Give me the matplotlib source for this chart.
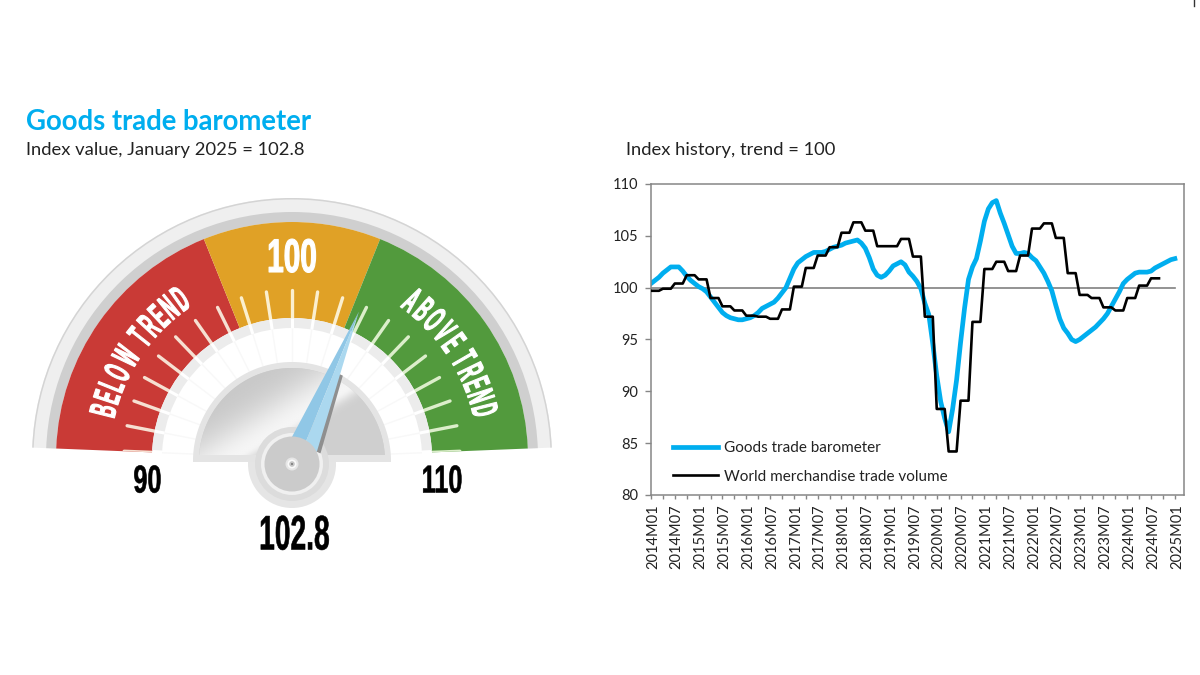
import numpy as np
import matplotlib
matplotlib.use("Agg")
import matplotlib.pyplot as plt
from matplotlib.patches import Wedge, Circle, Polygon
from matplotlib.patheffects import AbstractPathEffect
from matplotlib.textpath import TextPath
from matplotlib.font_manager import FontProperties
from matplotlib.transforms import Affine2D, ScaledTranslation

plt.rcParams['font.family'] = ['Lato', 'DejaVu Sans']

# ---- data ----
gauge_value = 102.8
gauge_min = 90
gauge_max = 110
zone_low = 97.5
zone_high = 102.5

years = list(range(2014, 2026))

# barometer, monthly 2014M01 .. 2025M01
barometer = [
    100.4, 100.7, 101.0, 101.4, 101.7, 102.0, 102.0, 102.0, 101.6, 101.1, 100.7, 100.4,
    100.1, 99.9, 99.6, 99.1, 98.6, 98.1, 97.6, 97.3, 97.1, 97.0, 96.9, 96.9,
    97.0, 97.1, 97.3, 97.6, 98.0, 98.2, 98.4, 98.6, 99.0, 99.5, 100.0, 100.9,
    101.8, 102.4, 102.7, 103.0, 103.2, 103.4, 103.4, 103.4, 103.5, 103.7, 103.9, 104.0,
    104.1, 104.3, 104.4, 104.5, 104.6, 104.3, 103.8, 102.9, 101.8, 101.2, 101.0, 101.2,
    101.6, 102.1, 102.3, 102.5, 102.2, 101.5, 101.1, 100.6, 99.9, 98.5, 97.4, 94.6,
    91.5, 89.0, 87.4, 86.1, 88.3, 91.1, 94.7, 98.0, 100.8, 102.0, 102.8, 104.5,
    106.4, 107.6, 108.2, 108.4, 107.2, 106.2, 105.1, 104.0, 103.3, 103.3, 103.4, 103.3,
    102.9, 102.6, 102.0, 101.4, 100.6, 99.7, 98.3, 97.0, 96.1, 95.6, 95.0, 94.8,
    95.0, 95.3, 95.6, 95.9, 96.2, 96.6, 97.0, 97.5, 98.2, 98.9, 99.6, 100.4,
    100.8, 101.1, 101.4, 101.5, 101.5, 101.5, 101.6, 101.9, 102.1, 102.3, 102.5, 102.7,
    102.8,
]

# trade volume, one value per quarter from 2014Q1 to 2024Q3
volume_q = [
    99.7, 99.9, 100.4, 101.2, 100.8, 99.0, 98.2, 97.8, 97.3, 97.2, 97.0, 97.9,
    100.1, 101.9, 103.1, 103.9, 105.3, 106.3, 105.5, 104.0, 104.0, 104.7, 103.0, 97.2,
    88.3, 84.2, 89.1, 96.7, 101.8, 102.5, 101.6, 103.1, 105.7, 106.2, 104.8, 101.4,
    99.3, 99.0, 98.1, 97.8, 99.0, 100.2, 100.9,
]

months = [f"{y}M{m:02d}" for y in years for m in range(1, 13)][:len(barometer)]
volume = np.repeat(volume_q, 3)

# colours
RED = "#C93A36"
YELLOW = "#E0A126"
GREEN = "#529A3D"
CYAN = "#00AEEF"


class Squeeze(AbstractPathEffect):
    # the gauge font is condensed, so narrow the glyphs about their own centre
    def __init__(self, sx, stroke=0.0):
        super().__init__()
        self.sx = sx
        self.stroke = stroke

    def draw_path(self, renderer, gc, tpath, affine, rgbFace=None):
        ext = tpath.get_extents()
        cx = (ext.x0 + ext.x1) / 2
        squeeze = Affine2D().translate(-cx, 0).scale(self.sx, 1).translate(cx, 0)
        gc0 = renderer.new_gc()
        gc0.copy_properties(gc)
        gc0.set_linewidth(self.stroke)
        gc0.set_foreground(rgbFace)
        renderer.draw_path(gc0, tpath, squeeze + affine, rgbFace)
        gc0.restore()


fig = plt.figure(figsize=(12, 6.75), dpi=100)

# gauge axes: origin on the centre of the dial, units are pixels
CX, CY = 292, 458
ax = fig.add_axes([0, 0, 1, 1])
ax.axis("off")


def val2ang(v):
    return 90 - (v - 100) * 8.77


def gauge_text(x, y, s, size, sx=0.62, rot=0, color="black", stroke=0.4):
    ax.text(x, y, s, fontsize=size, fontweight="bold", family="Liberation Sans", color=color,
            ha="center", va="center", rotation=rot, rotation_mode="anchor",
            path_effects=[Squeeze(sx, stroke)], zorder=8)


def flat_disc(r, y0, cy=0):
    # circle cut by a horizontal line
    t0 = np.arcsin(y0 / r)
    t = np.linspace(t0, np.pi - t0, 200)
    return np.column_stack([r * np.cos(t), cy + r * np.sin(t)])


def arc_text(s, ang_start, ang_end, r, size, sx):
    # lay the letters out along the arc, spacing them by their own width
    fp = FontProperties(family="Liberation Sans", weight="bold")
    widths = []
    for ch in s:
        w = TextPath((0, 0), ch, size=1, prop=fp).get_extents().width if ch != " " else 0.2
        widths.append(w + 0.06)
    edges = np.cumsum([0] + widths)
    mids = (edges[:-1] + edges[1:]) / 2 / edges[-1]
    for ch, m in zip(s, mids):
        if ch == " ":
            continue
        a = ang_start + (ang_end - ang_start) * m
        gauge_text(r * np.cos(np.radians(a)), r * np.sin(np.radians(a)), ch, size, sx, rot=a - 90,
                   color="white", stroke=0.8)


a0 = val2ang(gauge_max)
a1 = val2ang(gauge_min)
a_low = val2ang(zone_low)
a_high = val2ang(zone_high)

# rims
ax.add_patch(Wedge((0, 0), 260, a0, a1, width=24, fc="#efefef", ec="none", zorder=1))
ax.add_patch(Wedge((0, 0), 260, a0, a1, width=1.5, fc="#d4d4d4", ec="none", zorder=1))
ax.add_patch(Wedge((0, 0), 246, a0, a1, width=10, fc="#cfcfcf", ec="none", zorder=1))

# coloured zones
zones = {}
zones["red"] = Wedge((0, 0), 236, a_low, a1, width=96, fc=RED, ec="none", zorder=2)
zones["yellow"] = Wedge((0, 0), 236, a_high, a_low, width=96, fc=YELLOW, ec="none", zorder=2)
zones["green"] = Wedge((0, 0), 236, a0, a_high, width=96, fc=GREEN, ec="none", zorder=2)
for z in zones.values():
    ax.add_patch(z)

# pale ring under the zones
ax.add_patch(Wedge((0, 0), 140, a0 + 1, a1 - 1, width=10, fc="#ececec", ec="none", zorder=2))

# ticks, one per index point
for v in range(gauge_min, gauge_max + 1):
    ang = np.radians(val2ang(v))
    c, s = np.cos(ang), np.sin(ang)
    if v < zone_low:
        col, zone = "#F6E0D2", zones["red"]
    elif v < zone_high:
        col, zone = "#FBEFCF", zones["yellow"]
    else:
        col, zone = "#DCEECB", zones["green"]
    ax.plot([140 * c, 168 * c], [140 * s, 168 * s], color=col, lw=2.4, solid_capstyle="round", zorder=3,
            clip_path=zone if v in (gauge_min, gauge_max) else None)
    ax.plot([130 * c, 140 * c], [130 * s, 140 * s], color="white", lw=2.2, solid_capstyle="butt", zorder=3)
    ax.plot([97 * c, 130 * c], [97 * s, 130 * s], color="#f8f8f8", lw=1.0, zorder=2)

# silver disc in the middle
ax.add_patch(Polygon(flat_disc(99, -1, -3), closed=True, fc="#e4e4e4", ec="none", zorder=4))
disc = Polygon(flat_disc(93, 6, -3), closed=True, fc="#cfcfcf", ec="none", zorder=4)
ax.add_patch(disc)
gx, gy = np.meshgrid(np.linspace(-100, 100, 300), np.linspace(-10, 100, 165))
dist = -0.525 * gx + 0.851 * gy - 30
shine = np.where(dist > 0, 0.78 + 0.18 * np.exp(-(dist / 32) ** 2), 0.81 + 0.15 * np.exp(-(dist / 9) ** 2))
img = ax.imshow(shine, extent=[-100, 100, -10, 100], origin="lower", cmap="gray", vmin=0, vmax=1,
                aspect="auto", zorder=4.1)
img.set_clip_path(disc)

# needle, from the gauge value
needle_ang = np.radians(val2ang(gauge_value))
d = np.array([np.cos(needle_ang), np.sin(needle_ang)])
p = np.array([np.sin(needle_ang), -np.cos(needle_ang)])


def needle_poly(pts, col, z):
    xy = [a * d + b * p for a, b in pts]
    ax.add_patch(Polygon(xy, closed=True, fc=col, ec="none", zorder=z))


needle_poly([(16, 18), (16, 24), (96, 12), (96, 8)], "#8f8f8f", 5)
needle_poly([(16, -9), (16, 6), (161, 0)], "#90C7E6", 5.1)
needle_poly([(16, 6), (16, 20), (161, 0)], "#ABD8EF", 5.2)

# hub sits a little below the dial centre
HUB = (0, -6)
ax.add_patch(Circle(HUB, 44, fc="#e5e5e5", ec="none", zorder=3.9))
ax.add_patch(Circle(HUB, 37, fc="#dcdcdc", ec="none", zorder=4.2))
ax.add_patch(Circle(HUB, 31, fc="#f0f0f0", ec="none", zorder=4.3))
ax.add_patch(Circle(HUB, 27.5, fc="#cbcbcb", ec="none", zorder=6))
ax.add_patch(Circle(HUB, 6.5, fc="#e6e6e6", ec="none", zorder=6.1))
ax.add_patch(Circle(HUB, 4.5, fc="#fafafa", ec="none", zorder=6.2))
ax.add_patch(Circle(HUB, 2.8, fc="#c4c4c4", ec="none", zorder=6.3))
ax.add_patch(Circle(HUB, 1.0, fc="#777777", ec="none", zorder=6.4))

# gauge labels
gauge_text(0, CY - 260, "100", 34, 0.63, color="white", stroke=0.8)
arc_text("BELOW TREND", 168, 123, 192, 27, 0.42)
arc_text("ABOVE TREND", 55, 12, 196, 27, 0.42)
gauge_text(147.5 - CX, CY - 482.5, "90", 28, 0.65)
gauge_text(442 - CX, CY - 482.5, "110", 28, 0.65)
gauge_text(294 - CX, CY - 537, "102.8", 35, 0.58)

ax.set_xlim(-CX, 1200 - CX)
ax.set_ylim(CY - 675, CY)

# headings
fig.text(26 / 1200, 1 - 121.5 / 675, "Goods trade barometer", color=CYAN, fontsize=19.8, fontweight="bold", va="center")
fig.text(26 / 1200, 1 - 149.5 / 675, "Index value, January 2025 = 102.8", color="#222222", fontsize=13.2, va="center")
fig.text(626 / 1200, 1 - 149.5 / 675, "Index history, trend = 100", color="#222222", fontsize=13.2, va="center")

# history chart
L, R, T, B = 651, 1184, 184, 495
ax2 = fig.add_axes([L / 1200, 1 - B / 675, (R - L) / 1200, (B - T) / 675])
x = np.arange(len(barometer))
ax2.plot([0, x[-1]], [100, 100], color="#808080", lw=1.2, zorder=1)
ax2.plot(x, barometer, color=CYAN, lw=3.4, label="Goods trade barometer", zorder=2)
ax2.plot(np.arange(len(volume)), volume, color="black", lw=1.9, label="World merchandise trade volume", zorder=3)
ax2.set_xlim(0, 134.3)
ax2.set_ylim(80, 110)
ax2.set_yticks(range(80, 111, 5))
ax2.set_xticks(x[::6])
ax2.set_xticklabels(months[::6], rotation=90, ha="center", va="top")
ax2.set_xticks(x[::3], minor=True)
ax2.tick_params(axis="x", which="both", length=3, width=1, color="#868686", labelsize=10.5, pad=4, labelcolor="#222222")
ax2.tick_params(axis="y", length=4, width=1, color="#868686", labelsize=10.5, pad=5, labelcolor="#222222")
shift = ScaledTranslation(2 / 100, 0, fig.dpi_scale_trans)
for lab in ax2.get_xticklabels():
    lab.set_transform(lab.get_transform() + shift)
for sp in ax2.spines.values():
    sp.set_color("#868686")
    sp.set_linewidth(1.1)
ax2.legend(loc="lower left", bbox_to_anchor=(0.016, -0.008), frameon=False, fontsize=11,
           handlelength=2.95, labelspacing=0.95, handletextpad=0.35, labelcolor="#222222")

# small mark in the top right corner of the slide
fig.add_artist(plt.Line2D([1194 / 1200, 1194 / 1200], [1 - 6 / 675, 1], color="#333333", lw=1))

fig.savefig("out.png", dpi=100)
